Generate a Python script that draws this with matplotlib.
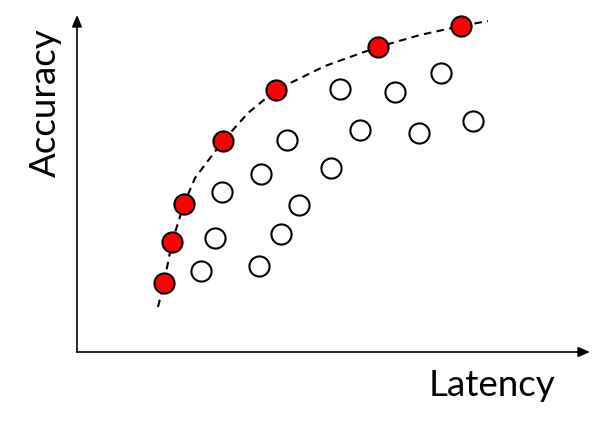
import matplotlib
matplotlib.use("Agg")
import matplotlib.pyplot as plt

# Pareto-front (optimal) models
front_latency = [87, 95, 107, 146, 199, 301, 384]
front_accuracy = [69, 110, 148, 211, 262, 305, 326]

# Other (sub-optimal) models
other_latency = [124, 138, 145, 182, 204, 222, 184, 210, 254, 263, 283, 318, 342, 364, 396]
other_accuracy = [81, 114, 160, 86, 118, 147, 178, 212, 184, 263, 222, 260, 219, 279, 231]

# Dashed frontier curve
curve_latency = [81, 87, 95, 107, 118, 146, 171, 199, 248, 301, 343, 384, 411]
curve_accuracy = [45, 69, 110, 148, 174, 211, 239, 262, 286, 305, 317, 326, 331]

x_label = "Latency"
y_label = "Accuracy"

fig = plt.figure(figsize=(6.03, 4.33), dpi=100)
ax = fig.add_axes([0, 0, 1, 1])
ax.set_xlim(-77, 526)
ax.set_ylim(-81, 352)
ax.axis("off")

# axes arrows
arrow = dict(arrowstyle="-|>,head_length=0.7,head_width=0.3", color="black", lw=1.2,
             shrinkA=0, shrinkB=0)
ax.annotate("", xy=(0, 337), xytext=(0, 0), arrowprops=arrow)
ax.annotate("", xy=(513, 0), xytext=(0, 0), arrowprops=arrow)

ax.plot(curve_latency, curve_accuracy, linestyle=(0, (3.6, 2.6)), color="black", lw=1.5, zorder=2)
ax.plot(other_latency, other_accuracy, linestyle="none", marker="o", markersize=14.5,
        markerfacecolor="white", markeredgecolor="black", markeredgewidth=1.5, zorder=3)
ax.plot(front_latency, front_accuracy, linestyle="none", marker="o", markersize=14.5,
        markerfacecolor="#ff0000", markeredgecolor="black", markeredgewidth=1.5, zorder=4)

ax.text(415, -33, x_label, fontsize=26.5, family=["Lato", "DejaVu Sans"], ha="center", va="center")
ax.text(-32, 249, y_label, fontsize=26.5, family=["Lato", "DejaVu Sans"], ha="center", va="center",
        rotation=90)

fig.savefig("out.png", dpi=100)
